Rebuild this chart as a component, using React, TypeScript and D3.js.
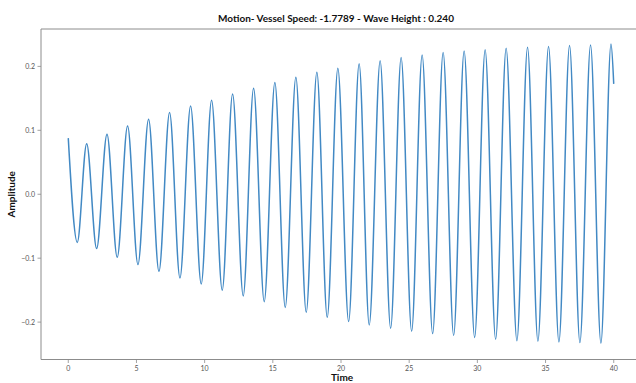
import React from "react";
import * as d3 from "d3";

const titleText = "Motion- Vessel Speed: -1.7789 - Wave Height : 0.240";
const xLabel = "Time";
const yLabel = "Amplitude";

const xTicks = [0, 5, 10, 15, 20, 25, 30, 35, 40];
const yTicks = [-0.2, -0.1, 0.0, 0.1, 0.2];

// first and last samples of the trace
const startPoint = [0.0, 0.0878];
const endPoint = [40.0, 0.1727];

// crests
const peakTimes = [1.35, 2.84, 4.35, 5.89, 7.43, 8.97, 10.51, 12.05, 13.59, 15.15, 16.69, 18.23, 19.77,
  21.33, 22.87, 24.41, 25.95, 27.49, 29.03, 30.57, 32.11, 33.68, 35.22, 36.76, 38.3, 39.8];
const peakValues = [0.079, 0.094, 0.1066, 0.1175, 0.128, 0.138, 0.147, 0.157, 0.166, 0.1747, 0.183, 0.191, 0.197,
  0.204, 0.209, 0.214, 0.218, 0.2216, 0.224, 0.226, 0.2284, 0.23, 0.231, 0.2325, 0.2336, 0.235];

// troughs
const troughTimes = [0.66, 2.08, 3.59, 5.11, 6.65, 8.19, 9.75, 11.29, 12.83, 14.37, 15.91, 17.45, 18.99,
  20.56, 22.07, 23.64, 25.18, 26.72, 28.26, 29.8, 31.34, 32.9, 34.44, 35.98, 37.52, 39.06];
const troughValues = [-0.0753, -0.085, -0.0987, -0.11, -0.1206, -0.131, -0.1403, -0.15, -0.159, -0.168, -0.177, -0.1847, -0.1925,
  -0.199, -0.2044, -0.2097, -0.2144, -0.218, -0.221, -0.224, -0.2269, -0.229, -0.23, -0.231, -0.232, -0.233];

const W = 636;
const H = 383;
const plotLeft = 41;
const plotRight = 641;
const plotTop = 29;
const plotBottom = 359.5;

export default function App() {
  const x = d3.scaleLinear().domain([-2, 42]).range([plotLeft, plotRight]);
  const y = d3.scaleLinear().domain([-0.2585, 0.2585]).range([plotBottom, plotTop]);

  const pts: [number, number][] = [];
  pts.push([startPoint[0], startPoint[1]]);
  peakTimes.forEach((t, i) => pts.push([t, peakValues[i]]));
  troughTimes.forEach((t, i) => pts.push([t, troughValues[i]]));
  pts.push([endPoint[0], endPoint[1]]);
  pts.sort((a, b) => a[0] - b[0]);

  const line = d3
    .line<[number, number]>()
    .x((d) => x(d[0]))
    .y((d) => y(d[1]))
    .curve(d3.curveMonotoneX);

  const spine = "#8c8c8c";
  const tickCol = "#555";
  const font = "Lato, 'Open Sans', sans-serif";
  const fmtY = (v: number) => (v < 0 ? "\u2212" : "") + Math.abs(v).toFixed(1);

  return (
    <div style={{ position: "absolute", left: 0, top: 0 }}>
      <svg width={W} height={H} viewBox={`0 0 ${W} ${H}`} style={{ display: "block", background: "#fff" }}>
        <rect x={0} y={0} width={W} height={H} fill="#fff" />
        <text x={336} y={22} textAnchor="middle" fontFamily={font} fontWeight="bold" fontSize={10} fill="#111">
          {titleText}
        </text>
        <path d={line(pts) || ""} fill="none" stroke="#4289c4" strokeWidth={1.5} strokeLinejoin="round" />
        {/* spines */}
        <line x1={plotLeft} x2={plotRight} y1={plotTop} y2={plotTop} stroke={spine} strokeWidth={1} />
        <line x1={plotLeft} x2={plotRight} y1={plotBottom} y2={plotBottom} stroke={spine} strokeWidth={1} />
        <line x1={plotLeft} x2={plotLeft} y1={plotTop} y2={plotBottom} stroke={spine} strokeWidth={1} />
        <line x1={plotRight} x2={plotRight} y1={plotTop} y2={plotBottom} stroke={spine} strokeWidth={1} />
        {xTicks.map((t) => (
          <g key={"x" + t}>
            <line x1={x(t)} x2={x(t)} y1={plotBottom} y2={plotBottom + 3.5} stroke={spine} strokeWidth={0.8} />
            <text x={x(t)} y={plotBottom + 11} textAnchor="middle" fontFamily={font} fontSize={7} fill={tickCol}>
              {t}
            </text>
          </g>
        ))}
        {yTicks.map((t) => (
          <g key={"y" + t}>
            <line x1={plotLeft - 3.5} x2={plotLeft} y1={y(t)} y2={y(t)} stroke={spine} strokeWidth={0.8} />
            <text x={plotLeft - 6} y={y(t) + 2.4} textAnchor="end" fontFamily={font} fontSize={7} fill={tickCol}>
              {fmtY(t)}
            </text>
          </g>
        ))}
        <text x={342} y={381} textAnchor="middle" fontFamily={font} fontWeight="bold" fontSize={10} fill="#111">
          {xLabel}
        </text>
        <text
          transform={`translate(15, ${y(0)}) rotate(-90)`}
          textAnchor="middle"
          fontFamily={font}
          fontWeight="bold"
          fontSize={10}
          fill="#111"
        >
          {yLabel}
        </text>
      </svg>
    </div>
  );
}
